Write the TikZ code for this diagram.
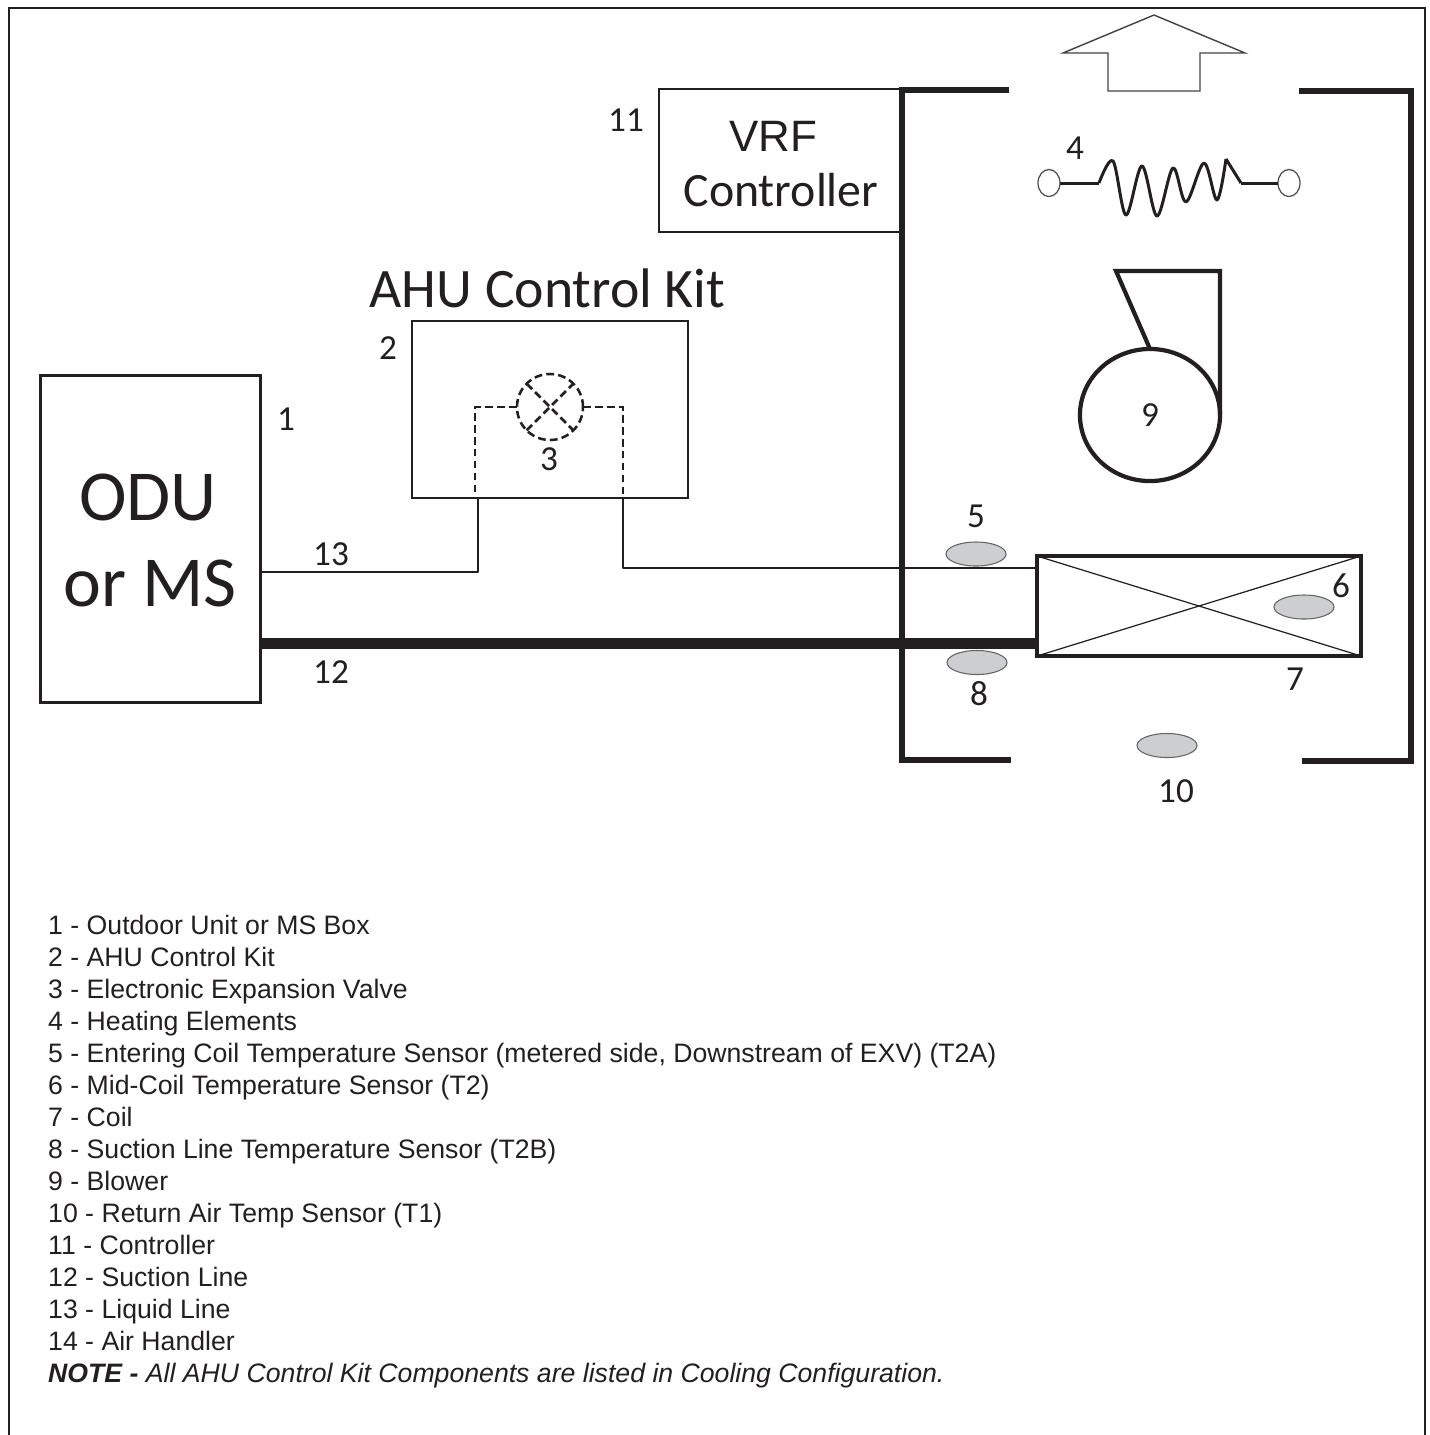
\documentclass[tikz,border=0pt]{standalone}
\usepackage{fontspec}
\setmainfont{Liberation Sans}
\newfontfamily\calibri{Carlito}
\usetikzlibrary{shapes.geometric}
\definecolor{inkblack}{HTML}{231F20}
\definecolor{sensorgray}{HTML}{CDCED0}
\tikzset{
	unitbox/.style={draw=inkblack,line width=0.85pt,inner sep=0,outer sep=0},
	pipe/.style={draw=inkblack,line width=0.7pt,line join=round},
	wire/.style={draw=inkblack,line width=0.85pt,line join=round},
	wall/.style={draw=inkblack,line width=1.45pt,line cap=butt},
	valveline/.style={draw=inkblack,line width=0.72pt,dash pattern=on 2.2pt off 1.2pt},
	terminal/.style={ellipse,draw=inkblack!80,line width=0.35pt,minimum width=0.22cm,minimum height=0.27cm,inner sep=0,outer sep=0},
	sensor/.style={ellipse,draw=inkblack!70,fill=sensorgray,line width=0.3pt,minimum width=0.6cm,minimum height=0.24cm,inner sep=0},
	tag/.style={text=inkblack,font=\calibri\fontsize{10}{12}\selectfont,inner sep=0},
	legend/.style={anchor=base west,text=inkblack,font=\fontsize{7.58}{9}\selectfont,inner sep=0}
}
\begin{document}
\begin{tikzpicture}[x=0.01cm,y=-0.01cm]
	\useasboundingbox (0,0) rectangle (1430,1435);
	% Page frame
	\draw [inkblack,line width=0.75pt] (9,1435) -- (9,8) -- (1425,8) -- (1425,1435);
	% Outdoor unit
	\node [unitbox,minimum width=2.19cm,minimum height=3.26cm] (odu) at (150.5,539) {};
		\node [tag,font=\calibri\fontsize{20.4}{24}\selectfont] (oduname) at (148,497) {ODU};
		\node [tag,font=\calibri\fontsize{20.4}{24}\selectfont] (odusub) at (150,583) {or MS};
		\node [tag] (tag1) at (286,419.5) {1};
	% Control kit
	\node [unitbox,line width=0.7pt,minimum width=2.76cm,minimum height=1.77cm] (kit) at (550,409.5) {};
		\node [tag,font=\calibri\fontsize{15.85}{18}\selectfont] (kittitle) at (547.5,288) {AHU Control Kit};
		\node [tag] (tag2) at (388,348.5) {2};
	% Controller
	\node [unitbox,line width=0.6pt,minimum width=2.42cm,minimum height=1.43cm] (ctrl) at (780,160.5) {};
		\node [text=inkblack,inner sep=0,font=\fontsize{12.5}{15}\selectfont] (ctrlvrf) at (773.5,136) {VRF};
		\node [tag,font=\calibri\fontsize{13.6}{15}\selectfont] (ctrlname) at (781,190) {Controller};
		\node [tag] (tag11) at (626,120) {11};
	% Air handler walls
	\draw [wall] (1009,90) -- (902,90) -- (902,760) -- (1011,760);
	\draw [wall] (1299,91) -- (1411,91) -- (1411,761) -- (1302,761);
	% Air flow arrow
	\draw [inkblack!85,line width=0.4pt,line join=miter] (1108,91) -- (1108,53) -- (1063,53) -- (1154,15) -- (1245,53) -- (1200,53) -- (1200,91) -- cycle;
	% Heating elements
	\node [terminal] (termL) at (1049,183) {};
	\node [terminal] (termR) at (1289,183) {};
	\coordinate (heatL) at (1099,183);
	\coordinate (heatR) at (1241,183);
	\draw [wire] (termL) -- (heatL);
	\draw [wire] (heatR) -- (termR);
	\draw [wire,smooth,tension=0.55] plot coordinates {(1099,183) (1113,161) (1126,215) (1142,166) (1157,216) (1173,168) (1186,202) (1204,163) (1217,200) (1226,159)};
	\draw [wire] (1226,159) -- (heatR);
		\node [tag] (tag4) at (1075,148) {4};
	% Blower
	\node [ellipse,draw=inkblack,line width=1.2pt,minimum width=1.4cm,minimum height=1.32cm,inner sep=0,outer sep=0,text=inkblack,font=\calibri\fontsize{10}{12}\selectfont] (blower) at (1150,415) {9};
	\coordinate (hoodA) at (1116,271);
	\coordinate (hoodB) at (blower.east |- hoodA);
	\draw [draw=inkblack,line width=1.2pt,line join=miter] (blower.north) -- (hoodA) -- (hoodB) -- (blower.east);
	% Coil
	\node [unitbox,line width=1.15pt,minimum width=3.24cm,minimum height=1cm] (coil) at (1199,606) {};
	\draw [inkblack,line width=0.35pt] (coil.north west) -- (coil.south east);
	\draw [inkblack,line width=0.35pt] (coil.south west) -- (coil.north east);
		\node [tag] (tag7) at (1295,679) {7};
	% Liquid line
	\coordinate (liqA) at (260,572);
	\coordinate (liqB) at (478,572);
	\coordinate (liqC) at (478,498);
	\coordinate (liqD) at (623,498);
	\coordinate (liqE) at (623,568);
	\coordinate (liqF) at (1037,568);
	\draw [pipe] (liqA) -- (liqB) -- (liqC);
	\draw [pipe] (liqD) -- (liqE) -- (liqF);
		\node [tag] (tag13) at (331,554.5) {13};
	% Suction line
	\coordinate (sucA) at (260,643.5);
	\coordinate (sucB) at (1037,643.5);
	\draw [inkblack,line width=3.4pt] (sucA) -- (sucB);
		\node [tag] (tag12) at (331,672) {12};
	% Expansion valve
	\node [circle,valveline,minimum size=0.66cm,inner sep=0,outer sep=0] (exv) at (550,407) {};
	\coordinate (exvL) at (475,407);
	\coordinate (exvR) at (623,407);
	\coordinate (exvLb) at (475,498);
	\draw [valveline] (exv.west) -- (exvL) -- (exvLb);
	\draw [valveline] (exv.east) -- (exvR) -- (liqD);
	\draw [valveline] (exv.north west) -- (exv.south east);
	\draw [valveline] (exv.south west) -- (exv.north east);
		\node [tag] (tag3) at (549,459.5) {3};
	% Sensors
	\node [sensor] (sen5) at (976,554) {};
		\node [tag] (tag5) at (976,516.5) {5};
	\node [sensor] (sen6) at (1304,607) {};
		\node [tag] (tag6) at (1341,586) {6};
	\node [sensor] (sen8) at (977,662.5) {};
		\node [tag] (tag8) at (979,693.5) {8};
	\node [sensor] (sen10) at (1167,745.5) {};
		\node [tag] (tag10) at (1176,791) {10};
	% Legend
	\node [legend] (item1) at (47.5,934) {1 - Outdoor Unit or MS Box};
	\node [legend] (item2) at (47.5,966) {2 - AHU Control Kit};
	\node [legend] (item3) at (47.5,998) {3 - Electronic Expansion Valve};
	\node [legend] (item4) at (47.5,1030) {4 - Heating Elements};
	\node [legend] (item5) at (47.5,1062) {5 - Entering Coil Temperature Sensor (metered side, Downstream of EXV) (T2A)};
	\node [legend] (item6) at (47.5,1094) {6 - Mid-Coil Temperature Sensor (T2)};
	\node [legend] (item7) at (47.5,1126) {7 - Coil};
	\node [legend] (item8) at (47.5,1158) {8 - Suction Line Temperature Sensor (T2B)};
	\node [legend] (item9) at (47.5,1190) {9 - Blower};
	\node [legend] (item10) at (47.5,1222) {10 - Return Air Temp Sensor (T1)};
	\node [legend] (item11) at (47.5,1254) {11 - Controller};
	\node [legend] (item12) at (47.5,1286) {12 - Suction Line};
	\node [legend] (item13) at (47.5,1318) {13 - Liquid Line};
	\node [legend] (item14) at (47.5,1350) {14 - Air Handler};
	\node [legend] (note) at (47.5,1382) {\textit{\textbf{NOTE -} All AHU Control Kit Components are listed in Cooling Configuration.}};
\end{tikzpicture}
\end{document}
